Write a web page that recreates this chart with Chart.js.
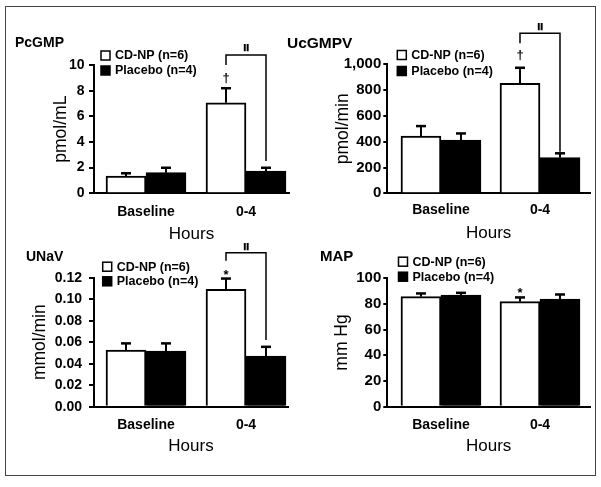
<!DOCTYPE html>
<html>
<head>
<meta charset="utf-8">
<script src="https://cdn.jsdelivr.net/npm/chart.js@4.4.1/dist/chart.umd.min.js"></script>
<style>
    body { margin: 0; background: #fff; }
    #figure { position: relative; width: 601px; height: 487px; overflow: hidden; }
    #frame { position: absolute; left: 5px; top: 6px; width: 591px; height: 470px; box-sizing: border-box; border: 1.5px solid #444; }
    canvas { position: absolute; }
</style>
</head>
<body>
<div id="figure">
    <div id="frame"></div>
    <canvas id="pcgmp" width="300" height="248" style="left:0;top:0"></canvas>
    <canvas id="ucgmpv" width="321" height="248" style="left:280px;top:0"></canvas>
    <canvas id="unav" width="300" height="247" style="left:0;top:240px"></canvas>
    <canvas id="map" width="321" height="247" style="left:280px;top:240px"></canvas>
</div>
<script>
const categories = ['Baseline', '0-4'];
const seriesNames = ['CD-NP (n=6)', 'Placebo (n=4)'];

// PcGMP (pmol/mL)
const pcgmpCdnp = [1.35, 7.05];
const pcgmpCdnpSem = [0.21, 1.14];
const pcgmpPlacebo = [1.61, 1.74];
const pcgmpPlaceboSem = [0.38, 0.25];
const pcgmpTicks = ['0', '2', '4', '6', '8', '10'];

// UcGMPV (pmol/min)
const ucgmpvCdnp = [444, 853];
const ucgmpvCdnpSem = [77, 120];
const ucgmpvPlacebo = [413, 276];
const ucgmpvPlaceboSem = [51, 34];
const ucgmpvTicks = ['0', '200', '400', '600', '800', '1,000'];

// UNaV (mmol/min)
const unavCdnp = [0.0527, 0.1092];
const unavCdnpSem = [0.0062, 0.0100];
const unavPlacebo = [0.0518, 0.0472];
const unavPlaceboSem = [0.0071, 0.0085];
const unavTicks = ['0.00', '0.02', '0.04', '0.06', '0.08', '0.10', '0.12'];

// MAP (mm Hg)
const mapCdnp = [85.7, 81.8];
const mapCdnpSem = [2.5, 3.3];
const mapPlacebo = [87.0, 83.9];
const mapPlaceboSem = [1.7, 3.5];
const mapTicks = ['0', '20', '40', '60', '80', '100'];

Chart.defaults.font.family = '"Liberation Sans", Arial, sans-serif';
Chart.defaults.color = '#000';

const panelDecor = {
    id: 'panelDecor',
    afterDraw(chart, args, o) {
        const { ctx, chartArea: ca } = chart;
        const y = chart.scales.y;
        ctx.save();
        ctx.fillStyle = '#000';
        ctx.strokeStyle = '#000';

        const line = (pts, w) => {
            ctx.lineWidth = w;
            ctx.beginPath();
            pts.forEach((p, i) => i ? ctx.lineTo(p[0], p[1]) : ctx.moveTo(p[0], p[1]));
            ctx.stroke();
        };

        // error bars (SEM, upward only)
        const capTop = [];
        chart.data.datasets.forEach((ds, di) => {
            capTop[di] = [];
            chart.getDatasetMeta(di).data.forEach((bar, i) => {
                const top = y.getPixelForValue(ds.data[i].y + ds.errors[i]);
                capTop[di][i] = top;
                line([[bar.x, bar.y], [bar.x, top]], 2);
                line([[bar.x - 5, top], [bar.x + 5, top]], 2.5);
            });
        });

        // significance bracket
        if (o.bracket) {
            const b = o.bracket;
            const xl = chart.getDatasetMeta(0).data[b.index].x;
            const xr = chart.getDatasetMeta(1).data[b.index].x;
            const yt = y.getPixelForValue(b.top);
            line([[xl, y.getPixelForValue(b.left)], [xl, yt], [xr, yt], [xr, y.getPixelForValue(b.right)]], 1.5);
            ctx.save();
            ctx.translate((xl + xr) / 2, yt - b.gap);
            ctx.scale(2, 0.72);
            ctx.font = 'bold 9px "DejaVu Sans"';
            ctx.textAlign = 'center';
            ctx.textBaseline = 'middle';
            ctx.fillText('\u2016', 0, 0);
            ctx.restore();
        }

        // symbols above error bars
        (o.marks || []).forEach(m => {
            const bar = chart.getDatasetMeta(m.dataset).data[m.index];
            ctx.font = 'bold 13px "Liberation Sans", Arial, sans-serif';
            ctx.textAlign = 'center';
            ctx.textBaseline = 'middle';
            ctx.fillText(m.text, bar.x, capTop[m.dataset][m.index] - m.gap);
        });

        // panel title
        ctx.font = 'bold ' + o.titleSize + 'px "Liberation Sans", Arial, sans-serif';
        ctx.textAlign = 'left';
        ctx.textBaseline = 'middle';
        ctx.fillText(o.title, ca.left + o.titleDx, ca.top + o.titleDy);

        // legend
        ctx.font = 'bold 12.5px "Liberation Sans", Arial, sans-serif';
        chart.data.datasets.forEach((ds, di) => {
            const bx = ca.left + o.legendDx;
            const cy = ca.top + o.legendRows[di];
            ctx.fillStyle = ds.backgroundColor;
            ctx.fillRect(bx, cy - 4.5, 9, 9);
            ctx.lineWidth = 1.5;
            ctx.strokeRect(bx, cy - 4.5, 9, 9);
            ctx.fillStyle = '#000';
            ctx.fillText(ds.label, bx + 14, cy + 0.5);
        });
        ctx.restore();
    }
};

function makePanel(p) {
    const tickVals = p.ticks.map(t => Number(t.replace(/,/g, '')));
    const toPoints = vals => vals.map((v, i) => ({ x: i, y: v }));
    new Chart(document.getElementById(p.canvas), {
        type: 'bar',
        data: {
            datasets: [{
                label: seriesNames[0],
                data: toPoints(p.cdnp),
                errors: p.cdnpSem,
                backgroundColor: '#fff',
                borderColor: '#000',
                borderWidth: 2,
                barThickness: 40
            }, {
                label: seriesNames[1],
                data: toPoints(p.placebo),
                errors: p.placeboSem,
                backgroundColor: '#000',
                borderColor: '#000',
                borderWidth: 2,
                barThickness: 40
            }]
        },
        options: {
            responsive: false,
            animation: false,
            events: [],
            layout: { padding: p.pad },
            plugins: {
                legend: { display: false },
                tooltip: { enabled: false },
                panelDecor: p.decor
            },
            scales: {
                x: {
                    type: 'linear',
                    min: p.xMin,
                    max: p.xMax,
                    offset: false,
                    z: 1,
                    afterBuildTicks: s => { s.ticks = categories.map((c, i) => ({ value: i })); },
                    ticks: {
                        callback: v => categories[v],
                        font: { weight: 'bold', size: 14 },
                        padding: p.xPad,
                        maxRotation: 0,
                        autoSkip: false
                    },
                    grid: { display: false, drawTicks: false },
                    border: { display: true, color: '#000', width: 2 },
                    title: { display: true, text: 'Hours', font: { size: 17 }, padding: { top: 0, bottom: p.hoursPad } },
                    afterFit: s => { s.height = p.xHeight; }
                },
                y: {
                    min: 0,
                    max: tickVals[tickVals.length - 1],
                    afterBuildTicks: s => { s.ticks = tickVals.map(v => ({ value: v })); },
                    ticks: {
                        callback: (v, i) => p.ticks[i],
                        font: { weight: 'bold', size: p.tickSize },
                        padding: p.yPad
                    },
                    grid: { drawOnChartArea: false, drawTicks: true, tickLength: p.tickLen, color: '#000', lineWidth: 2 },
                    border: { display: true, color: '#000', width: 2 },
                    title: { display: true, text: p.yTitle, font: { size: 17.5 }, padding: 0 },
                    afterFit: s => { s.width = p.yWidth; }
                }
            }
        },
        plugins: [panelDecor]
    });
}

makePanel({
    canvas: 'pcgmp', cdnp: pcgmpCdnp, cdnpSem: pcgmpCdnpSem, placebo: pcgmpPlacebo, placeboSem: pcgmpPlaceboSem,
    ticks: pcgmpTicks, yTitle: 'pmol/mL',
    pad: { left: 51, top: 65, right: 11, bottom: 0 }, yWidth: 43, xHeight: 54.7, hoursPad: 3.8,
    xMin: -0.52, xMax: 1.43, xPad: 10, tickSize: 14, tickLen: 5, yPad: 4.5,
    decor: {
        title: 'PcGMP', titleSize: 14, titleDx: -79, titleDy: -21.5, legendDx: 7, legendRows: [-9.5, 5.5],
        bracket: { index: 1, top: 10.78, left: 10.0, right: 2.52, gap: 8 },
        marks: [{ dataset: 0, index: 1, text: '\u2020', gap: 10 }]
    }
});

makePanel({
    canvas: 'ucgmpv', cdnp: ucgmpvCdnp, cdnpSem: ucgmpvCdnpSem, placebo: ucgmpvPlacebo, placeboSem: ucgmpvPlaceboSem,
    ticks: ucgmpvTicks, yTitle: 'pmol/min',
    pad: { left: 52.5, top: 64.3, right: 11, bottom: 0 }, yWidth: 54.8, xHeight: 54.7, hoursPad: 4.3,
    xMin: -0.542, xMax: 1.505, xPad: 8.5, tickSize: 15, tickLen: 4, yPad: 2,
    decor: {
        title: 'UcGMPV', titleSize: 15.5, titleDx: -100.3, titleDy: -20.3, legendDx: 10, legendRows: [-9.3, 6.7],
        bracket: { index: 1, top: 1240, left: 1163, right: 322, gap: 7 },
        marks: [{ dataset: 0, index: 1, text: '\u2020', gap: 12 }]
    }
});

makePanel({
    canvas: 'unav', cdnp: unavCdnp, cdnpSem: unavCdnpSem, placebo: unavPlacebo, placeboSem: unavPlaceboSem,
    ticks: unavTicks, yTitle: 'mmol/min',
    pad: { left: 29.5, top: 37.7, right: 12, bottom: 0 }, yWidth: 64.5, xHeight: 80.3, hoursPad: 30.8,
    xMin: -0.52, xMax: 1.42, xPad: 10, tickSize: 14, tickLen: 5, yPad: 7,
    decor: {
        title: 'UNaV', titleSize: 14, titleDx: -68, titleDy: -21, legendDx: 8.7, legendRows: [-11, 3.6],
        bracket: { index: 1, top: 0.1433, left: 0.1358, right: 0.062, gap: 6 },
        marks: [{ dataset: 0, index: 1, text: '*', gap: 3.5 }]
    }
});

makePanel({
    canvas: 'map', cdnp: mapCdnp, cdnpSem: mapCdnpSem, placebo: mapPlacebo, placeboSem: mapPlaceboSem,
    ticks: mapTicks, yTitle: 'mm Hg',
    pad: { left: 51.5, top: 38.3, right: 11, bottom: 0 }, yWidth: 55.8, xHeight: 80.3, hoursPad: 30.8,
    xMin: -0.542, xMax: 1.505, xPad: 10, tickSize: 15, tickLen: 4, yPad: 2,
    decor: {
        title: 'MAP', titleSize: 15, titleDx: -67.3, titleDy: -21.6, legendDx: 11.2, legendRows: [-16.6, -1.6],
        marks: [{ dataset: 0, index: 1, text: '*', gap: 4 }]
    }
});
</script>
</body>
</html>
